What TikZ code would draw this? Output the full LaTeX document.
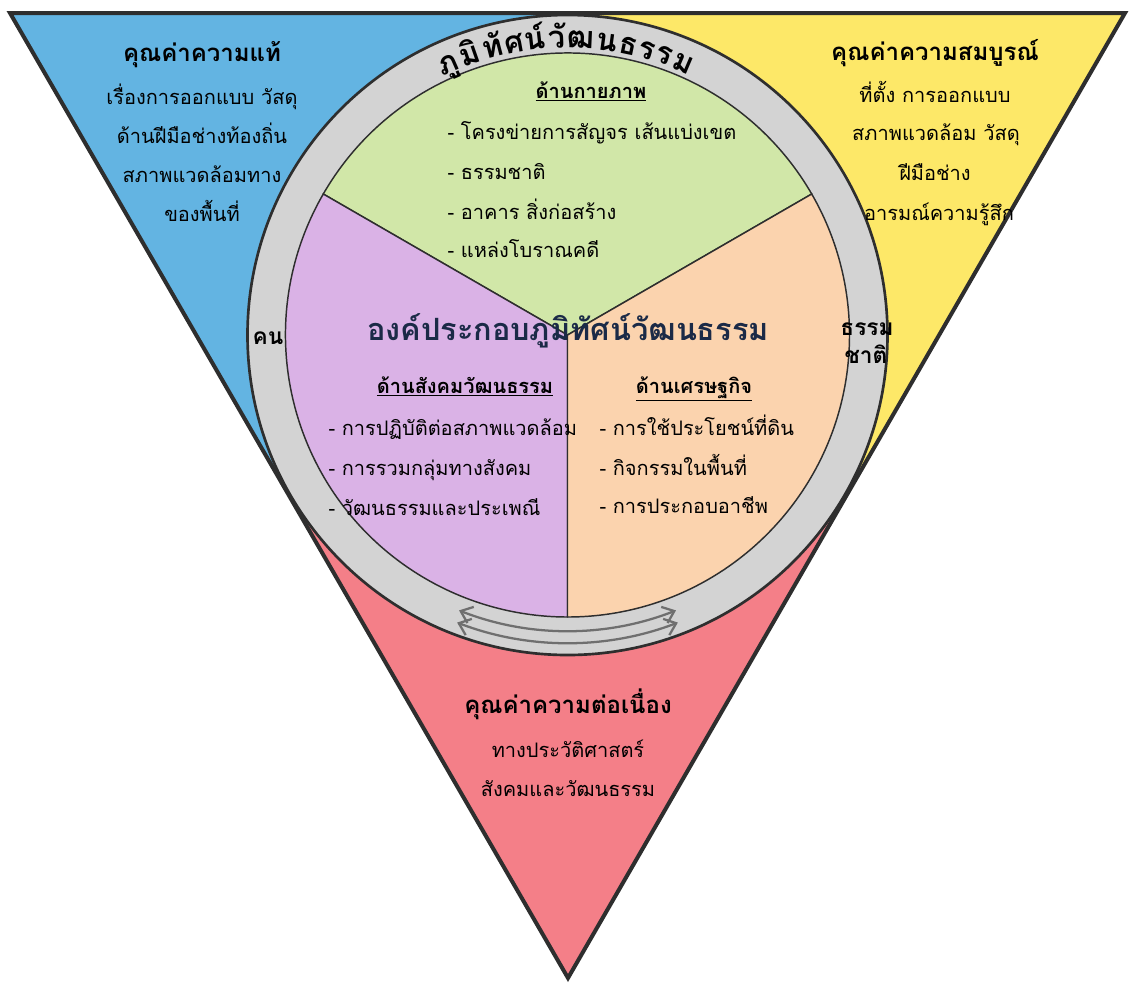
\documentclass[tikz,border=0pt]{standalone}
\usepackage{fontspec}
\setmainfont[Script=Thai]{Loma}
\usetikzlibrary{arrows.meta,calc}
\definecolor{valblue}{HTML}{63B4E2}
\definecolor{valyellow}{HTML}{FDE868}
\definecolor{valred}{HTML}{F47F88}
\definecolor{secgreen}{HTML}{D1E7A8}
\definecolor{secpurple}{HTML}{DAB2E6}
\definecolor{secorange}{HTML}{FBD3AE}
\definecolor{ringgray}{HTML}{D3D3D3}
\definecolor{edgedark}{HTML}{2E2E2E}
\definecolor{arrowgray}{HTML}{6F6F6F}
\definecolor{titlenavy}{HTML}{1B2A47}
\tikzset{
  every picture/.style={line width=0.75pt},
  bodytext/.style={inner sep=0.75pt, font=\fontsize{15}{18}\selectfont},
  valtitle/.style={inner sep=0.75pt, font=\fontsize{18}{22}\selectfont\bfseries},
  sechead/.style={inner sep=0.75pt, font=\fontsize{15}{18}\selectfont\bfseries},
  ringside/.style={inner sep=0.5pt, font=\fontsize{17}{20}\selectfont\bfseries},
  ringtext/.style={inner sep=0pt, font=\fontsize{23}{26}\selectfont\bfseries},
  twoway/.style={arrowgray, line width=1.7pt, {Straight Barb[length=8pt,width=13pt]}-{Straight Barb[length=8pt,width=13pt]}},
}

\begin{document}
\begin{tikzpicture}[x=0.75pt,y=0.75pt,yscale=-1,xscale=1]
\useasboundingbox (0,0) rectangle (1129,983);
% corners and centre of the triangle
\coordinate (A) at (10,13);
\coordinate (B) at (1125,13);
\coordinate (C) at (568,978);
\coordinate (O) at (567.5,335);
\coordinate (Mt) at (567.5,13);
\coordinate (Ml) at (289,495.5);
\coordinate (Mr) at (846.5,495.5);

%Shape: corner regions
\fill [valblue] (A) -- (Mt) -- (O) -- (Ml) -- cycle ;
\fill [valyellow] (B) -- (Mt) -- (O) -- (Mr) -- cycle ;
\fill [valred] (C) -- (Ml) -- (O) -- (Mr) -- cycle ;
%Shape: Triangle
\draw [edgedark, line width=3pt, line join=miter] (A) -- (B) -- (C) -- cycle ;

%Shape: Ring
\draw [edgedark, line width=2pt, fill=ringgray] (O) circle (320) ;
%Shape: Sectors
\draw [edgedark, line width=1.1pt, fill=secgreen] (O) -- ++(-150:282) arc (-150:-30:282) -- cycle ;
\draw [edgedark, line width=1.1pt, fill=secpurple] (O) -- ++(-150:282) arc (-150:-270:282) -- cycle ;
\draw [edgedark, line width=1.1pt, fill=secorange] (O) -- ++(90:282) arc (90:-30:282) -- cycle ;

%Curve Lines: double arrows in the ring
\draw [twoway] ($(O)+(111.5:296)$) arc (111.5:68.5:296) ;
\draw [twoway] ($(O)+(111:308)$) arc (111:69:308) ;

% Text on the ring
\foreach \ang/\syl [count=\i] in {113.8/ภู, 109.2/มิ, 104.6/ทั, 100.3/ศ, 96.4/น์, 92.0/วั, 87.4/ฒ, 82.4/น, 78.2/ธ, 74.4/ร, 71.0/ร, 66.9/ม}
  \node [ringtext, anchor=base, rotate=\ang-90] (ring\i) at ($(O)+(-\ang:287)$) {\syl};
\node [ringside, anchor=base] (ringleft) at (268,344) {คน};
\node [ringside, anchor=base] (ringright1) at (867,335) {ธรรม};
\node [ringside, anchor=base] (ringright2) at (866,363) {ชาติ};

% Text Node: blue corner
\node [valtitle, anchor=base] (bluetitle) at (202,61) {คุณค่าความแท้};
\node [bodytext, anchor=base] (blue1) at (202,104) {เรื่องการออกแบบ วัสดุ};
\node [bodytext, anchor=base] (blue2) at (202,143) {ด้านฝีมือช่างท้องถิ่น};
\node [bodytext, anchor=base] (blue3) at (202,182) {สภาพแวดล้อมทาง};
\node [bodytext, anchor=base] (blue4) at (202,221) {ของพื้นที่};
% Text Node: yellow corner
\node [valtitle, anchor=base] (yellowtitle) at (935,60) {คุณค่าความสมบูรณ์};
\node [bodytext, anchor=base] (yellow1) at (935,102) {ที่ตั้ง การออกแบบ};
\node [bodytext, anchor=base] (yellow2) at (936,140) {สภาพแวดล้อม วัสดุ};
\node [bodytext, anchor=base] (yellow3) at (935,180) {ฝีมือช่าง};
\node [bodytext, anchor=base] (yellow4) at (939,220) {อารมณ์ความรู้สึก};
% Text Node: red corner
\node [valtitle, anchor=base] (redtitle) at (568,713) {คุณค่าความต่อเนื่อง};
\node [bodytext, anchor=base] (red1) at (568,757) {ทางประวัติศาสตร์};
\node [bodytext, anchor=base] (red2) at (568,796) {สังคมและวัฒนธรรม};

% Text Node: centre title
\node [inner sep=0.75pt, anchor=base, text=titlenavy, font=\fontsize{23}{27}\selectfont\bfseries] (maintitle) at (568,340) {องค์ประกอบภูมิทัศน์วัฒนธรรม};

% Text Node: physical
\node [sechead, anchor=base] (physhead) at (591,98) {\underline{ด้านกายภาพ}};
\node [bodytext, anchor=base west] (phys1) at (446,139) {- โครงข่ายการสัญจร เส้นแบ่งเขต};
\node [bodytext, anchor=base west] (phys2) at (446,179) {- ธรรมชาติ};
\node [bodytext, anchor=base west] (phys3) at (446,219) {- อาคาร สิ่งก่อสร้าง};
\node [bodytext, anchor=base west] (phys4) at (446,257) {- แหล่งโบราณคดี};
% Text Node: socio-cultural
\node [sechead, anchor=base] (sochead) at (465,393) {\underline{ด้านสังคมวัฒนธรรม}};
\node [bodytext, anchor=base west] (soc1) at (327,435) {- การปฏิบัติต่อสภาพแวดล้อม};
\node [bodytext, anchor=base west] (soc2) at (327,475) {- การรวมกลุ่มทางสังคม};
\node [bodytext, anchor=base west] (soc3) at (327,515) {- วัฒนธรรมและประเพณี};
% Text Node: economic
\node [sechead, anchor=base] (ecohead) at (694,393) {\underline{ด้านเศรษฐกิจ}};
\node [bodytext, anchor=base west] (eco1) at (598,435) {- การใช้ประโยชน์ที่ดิน};
\node [bodytext, anchor=base west] (eco2) at (598,475) {- กิจกรรมในพื้นที่};
\node [bodytext, anchor=base west] (eco3) at (598,513) {- การประกอบอาชีพ};
\end{tikzpicture}
\end{document}
